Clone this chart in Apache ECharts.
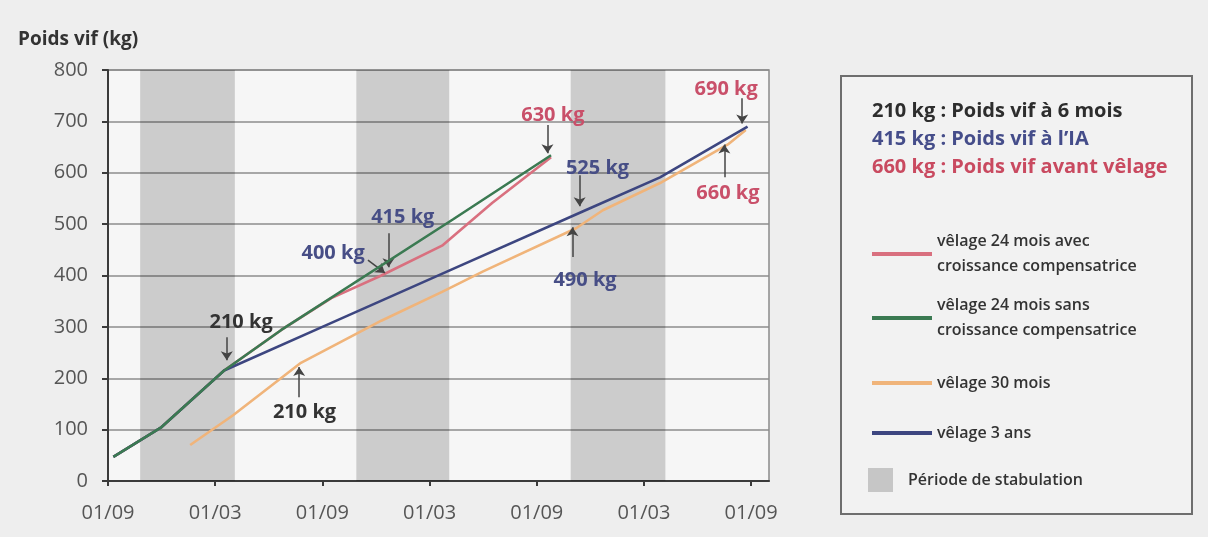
<!DOCTYPE html>
<html>
<head>
<meta charset="utf-8">
<script src="https://cdn.jsdelivr.net/npm/echarts@6/dist/echarts.min.js"></script>
<style>
html,body{margin:0;padding:0;background:#eeeeee;}
#chart{width:1208px;height:537px;}
</style>
</head>
<body>
<div id="chart"></div>
<script>
// ---- data (months since 01/09 of birth year, live weight kg) ----
const xTickLabels = ['01/09','01/03','01/09','01/03','01/09','01/03','01/09'];
const seriesNames = [
  'vêlage 24 mois avec croissance compensatrice',
  'vêlage 24 mois sans croissance compensatrice',
  'vêlage 30 mois',
  'vêlage 3 ans'
];
const legendLabels = [
  'vêlage 24 mois avec\ncroissance compensatrice',
  'vêlage 24 mois sans\ncroissance compensatrice',
  'vêlage 30 mois',
  'vêlage 3 ans'
];
const stabulationName = 'Période de stabulation';
const velage24Avec = [[0.3,47],[3,105],[6.5,215],[9.7,294],[12.5,356],[15.3,400],[18.7,458],[21.5,541],[24.8,630]];
const velage24Sans = [[0.3,47],[3,105],[6.5,215],[9.7,294],[19.3,509],[24.8,634]];
const velage30 = [[4.6,70],[7,128],[10.8,230],[15.3,312],[18.7,368],[21,408],[26.2,492],[27.7,527],[30.9,580],[34.7,655],[35.7,683]];
const velage3ans = [[0.3,47],[3,105],[6.5,215],[12,300],[19,408],[26.6,525],[30.9,591],[35.8,690]];
const stabulationPeriods = [[1.8,7.1],[13.9,19.1],[25.9,31.2]];
const headerLines = ['210 kg : Poids vif à 6 mois','415 kg : Poids vif à l\u2019IA','660 kg : Poids vif avant vêlage'];
// annotations: text, text centre [month,kg], arrow from/to [month,kg], tone
const annotations = [
  {text:'210 kg', tone:'dark', at:[7.45,309], from:[6.65,280], to:[6.65,235]},
  {text:'210 kg', tone:'dark', at:[11.0,134], from:[10.7,163], to:[10.7,222]},
  {text:'400 kg', tone:'navy', at:[12.6,444], from:[14.55,430], to:[15.5,405]},
  {text:'415 kg', tone:'navy', at:[16.5,513], from:[15.7,482], to:[15.7,416]},
  {text:'630 kg', tone:'red',  at:[24.9,712], from:[24.6,693], to:[24.6,638]},
  {text:'525 kg', tone:'navy', at:[27.4,609], from:[26.4,595], to:[26.4,535]},
  {text:'490 kg', tone:'navy', at:[26.7,391], from:[26.0,436], to:[26.0,494]},
  {text:'690 kg', tone:'red',  at:[34.6,763], from:[35.5,745], to:[35.5,696]},
  {text:'660 kg', tone:'red',  at:[34.7,560], from:[34.5,591], to:[34.5,655]}
];

// ---- styles ----
const FONT = '"Open Sans", "Noto Sans", sans-serif';
const toneColors = {dark:'#333333', navy:'#474e86', red:'#c9506a'};
const lineColors = ['#d9707f', '#3b7a52', '#f0b47a', '#3d4680'];
const headerColors = ['#2d2d2d', '#454d8a', '#c94a60'];
const legendCenters = [254, 318, 383, 433];

const chart = echarts.init(document.getElementById('chart'));

const lineData = [velage24Avec, velage24Sans, velage30, velage3ans];
const zOrder = [4, 6, 3, 5];
const series = lineData.map((d, i) => ({
  name: seriesNames[i],
  type: 'line',
  data: d,
  symbol: 'none',
  z: zOrder[i],
  lineStyle: {color: lineColors[i], width: 2.6},
  itemStyle: {color: lineColors[i]}
}));

series.push({
  name: stabulationName,
  type: 'line',
  data: [],
  z: 1,
  itemStyle: {color: '#c6c6c6'},
  markArea: {
    silent: true,
    itemStyle: {color: 'rgba(0,0,0,0.17)'},
    data: stabulationPeriods.map(p => [{xAxis: p[0]}, {xAxis: p[1]}])
  }
});

series.push({
  name: 'annotations',
  type: 'line',
  data: [],
  z: 10,
  silent: true,
  markLine: {
    silent: true,
    symbol: ['none', 'arrow'],
    symbolSize: 9,
    lineStyle: {color: '#444', width: 1.5, type: 'solid'},
    label: {show: false},
    data: annotations.map(a => [{coord: a.from}, {coord: a.to}])
  },
  markPoint: {
    silent: true,
    symbol: 'rect',
    symbolSize: 1,
    itemStyle: {color: 'rgba(0,0,0,0)'},
    label: {show: true, position: 'inside', formatter: '{b}', fontFamily: FONT, fontSize: 20, fontWeight: 'bold'},
    data: annotations.map(a => ({name: a.text, coord: a.at, label: {color: toneColors[a.tone]}}))
  }
});

const legendCommon = {
  orient: 'vertical',
  padding: 0,
  icon: 'rect',
  itemWidth: 60,
  itemHeight: 4,
  textStyle: {fontFamily: FONT, fontSize: 16, fontWeight: 600, color: '#333', lineHeight: 25},
  formatter: name => legendLabels[seriesNames.indexOf(name)]
};
const legends = seriesNames.map((n, i) => Object.assign({}, legendCommon, {
  data: [n],
  left: 872,
  top: legendCenters[i] - (legendLabels[i].indexOf('\n') >= 0 ? 25 : 12.5)
}));
legends.push({
  orient: 'vertical', padding: 0, left: 868, top: 468,
  itemWidth: 25, itemHeight: 24, icon: 'rect',
  data: [stabulationName],
  textStyle: {fontFamily: FONT, fontSize: 16, fontWeight: 600, color: '#333', padding: [0,0,0,10]}
});

const tickValues = xTickLabels.map((_, i) => i * 6);

const option = {
  backgroundColor: '#eeeeee',
  animation: false,
  title: {
    text: 'Poids vif (kg)', left: 13, top: 25,
    textStyle: {fontFamily: FONT, fontSize: 19, fontWeight: 'bold', color: '#333'}
  },
  grid: {left: 108, right: 439, top: 70, bottom: 56, show: true,
         backgroundColor: '#f6f6f6', borderColor: '#8a8a8a', borderWidth: 1.5},
  xAxis: {
    type: 'value', min: 0, max: 37, interval: 6,
    axisLine: {lineStyle: {color: '#3a3a3a', width: 2}},
    axisTick: {show: true, length: 5, customValues: tickValues, lineStyle: {color: '#3a3a3a', width: 2}},
    axisLabel: {margin: 22, fontFamily: FONT, fontSize: 20, color: '#555', customValues: tickValues,
                formatter: v => (v % 6 === 0 && xTickLabels[v / 6]) ? xTickLabels[v / 6] : ''},
    splitLine: {show: false}
  },
  yAxis: {
    type: 'value', min: 0, max: 800, interval: 100,
    axisLine: {show: true, lineStyle: {color: '#3a3a3a', width: 2}},
    axisTick: {show: true, length: 6, lineStyle: {color: '#3a3a3a', width: 2}},
    axisLabel: {margin: 20, fontFamily: FONT, fontSize: 20, color: '#555'},
    splitLine: {show: true, lineStyle: {color: '#8c8c8c', width: 1.5}}
  },
  legend: legends,
  graphic: [
    {type: 'rect', left: 840, top: 75, z: 0,
     shape: {width: 351, height: 438},
     style: {fill: '#f2f2f2', stroke: '#6e6e6e', lineWidth: 2}}
  ].concat(headerLines.map((t, i) => ({
    type: 'text', left: 872, top: 101 + i * 28, z: 5,
    style: {text: t, fill: headerColors[i], font: 'bold 20px ' + FONT}
  }))),
  series: series
};
chart.setOption(option);
</script>
</body>
</html>
